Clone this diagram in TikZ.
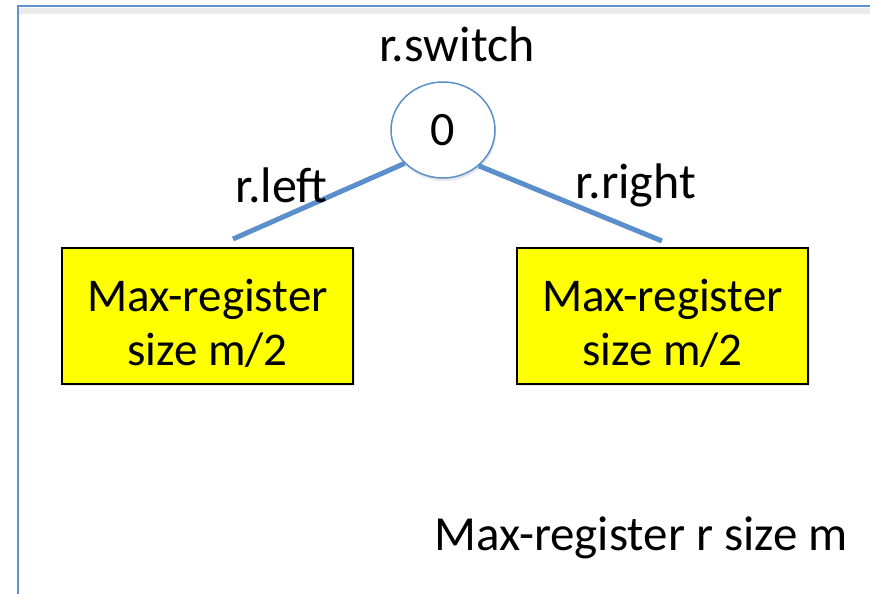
\documentclass[tikz,border=0pt]{standalone}
\usepackage{fontspec}
\setmainfont{Carlito}
\usetikzlibrary{shapes.geometric,shadows}
\definecolor{edgeblue}{HTML}{5B8FCB}
\definecolor{frameblue}{HTML}{5F93D3}
\definecolor{boxyellow}{HTML}{FFFF00}
\begin{document}
\begin{tikzpicture}[x=1pt,y=-1pt,
  lbl/.style={inner sep=0pt, anchor=base, font=\fontsize{50}{58}\selectfont},
  regbox/.style={draw=black, line width=1.5pt, fill=boxyellow, minimum width=291pt, minimum height=136pt,
    align=center, inner sep=0pt, font=\fontsize{47}{54}\selectfont,
    drop shadow={opacity=0.2, shadow xshift=1.5pt, shadow yshift=-2pt}},
  switchnode/.style={ellipse, draw=edgeblue, line width=1.5pt, fill=white, minimum width=104pt, minimum height=96pt,
    inner sep=0pt, font=\fontsize{48}{54}\selectfont,
    drop shadow={opacity=0.2, shadow xshift=1pt, shadow yshift=-3pt}},
  branch/.style={draw=edgeblue, line width=5pt}]
\useasboundingbox (0,0) rectangle (870,594);
\begin{scope}
\clip (0,0) rectangle (870,594);
\fill[black!8] (19,8) rectangle (880,14);
\draw[frameblue, line width=2pt] (18,6) rectangle (890,620);
\end{scope}
% nodes
\node[switchnode] (sw) at (443,130) {\raisebox{-2pt}{0}};
\coordinate (lend) at (233,239);
\coordinate (rend) at (662,241);
\draw[branch] (sw.221) -- (lend);
\draw[branch] (sw.315) -- (rend);
\node[regbox] (lbox) at (207.5,316) {\rule{0pt}{46pt}Max-register\\size m/2};
\node[regbox] (rbox) at (662.5,316) {\rule{0pt}{46pt}Max-register\\size m/2};
% labels
\node[lbl] (swlabel) at (457,62) {r.switch};
\node[lbl] (llabel) at (281.5,202) {r.left};
\node[lbl] (rlabel) at (636,198) {r.right};
\node[lbl, font=\fontsize{49}{56}\selectfont] (title) at (641,550) {Max-register r size m};
\end{tikzpicture}
\end{document}
